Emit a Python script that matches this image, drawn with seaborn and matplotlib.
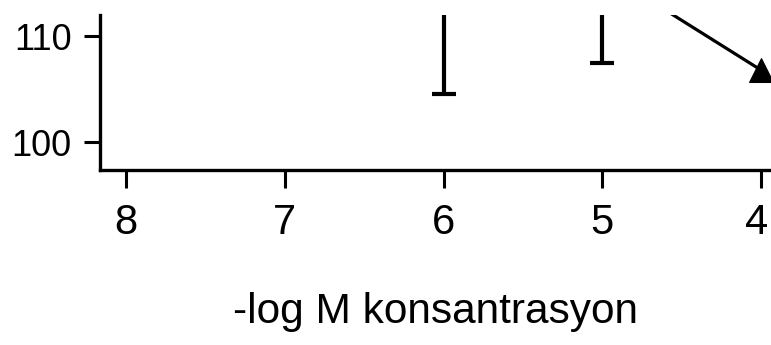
import matplotlib
matplotlib.use("Agg")
import matplotlib.pyplot as plt
import matplotlib.transforms as mtransforms
import seaborn as sns
import pandas as pd

# Concentration (-log M) and response means with standard deviations
log_conc = [6, 5, 4]
response_mean = [118.0, 116.2, 106.8]
response_sd = [13.5, 8.75, 0.0]

x_ticks = [8, 7, 6, 5, 4]
y_ticks = [100, 110]
x_label = "-log M konsantrasyon"

sns.set_theme(style="ticks")
plt.rcParams["font.family"] = ["Liberation Sans", "DejaVu Sans"]

df = pd.DataFrame({"conc": log_conc, "mean": response_mean, "sd": response_sd})
with_err = df[df["sd"] > 0]

fig = plt.figure(figsize=(7.71, 3.45), dpi=100)
ax = fig.add_axes([100 / 771, 1 - 170 / 345, 671 / 771, 155 / 345])

ax.errorbar(with_err["conc"], with_err["mean"], yerr=with_err["sd"], fmt="none",
            ecolor="black", elinewidth=3.0, capsize=8.5, capthick=3.0, zorder=2)
sns.lineplot(data=df, x="conc", y="mean", ax=ax, color="black", linewidth=2.3,
             marker="^", markersize=17, markeredgecolor="black",
             markerfacecolor="black", zorder=3)

ax.set_xlim(8.164, 3.937)
ax.set_ylim(97.36, 112.0)
ax.set_xticks(x_ticks)
ax.set_yticks(y_ticks)
ax.set_xticklabels([str(t) for t in x_ticks])
ax.set_yticklabels([str(t) for t in y_ticks])

ax.set_xlabel(x_label, fontsize=30.5, labelpad=35, color="black")
ax.set_ylabel("")

for side in ("top", "right"):
    ax.spines[side].set_visible(False)
for side in ("left", "bottom"):
    ax.spines[side].set_linewidth(2.4)
    ax.spines[side].set_color("black")

ax.tick_params(axis="x", length=13, width=2.2, pad=11, labelsize=30, colors="black")
ax.tick_params(axis="y", length=11.5, width=2.2, pad=9, labelsize=26, colors="black")

# keep the rightmost tick label inside the figure edge
last_label = ax.get_xticklabels()[-1]
last_label.set_transform(last_label.get_transform()
                         + mtransforms.ScaledTranslation(-3 / 72, 0, fig.dpi_scale_trans))

fig.savefig("out.png", dpi=100, facecolor="white")
